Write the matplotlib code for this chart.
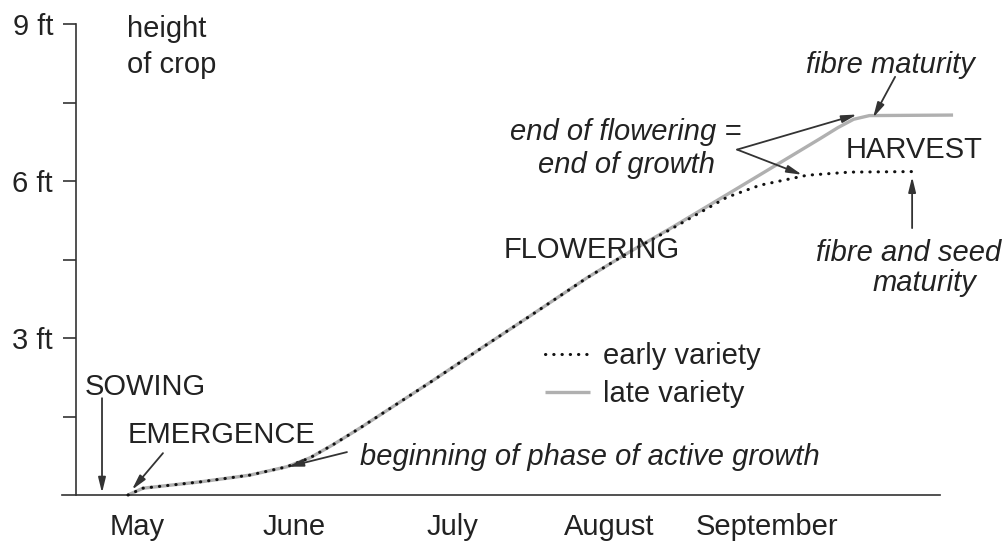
import numpy as np
import matplotlib
matplotlib.use('Agg')
from matplotlib import pyplot as plt

plt.rcParams['font.family'] = ['Liberation Sans', 'DejaVu Sans']

# x in months after start of May (0 = May ... 4 = September), y in feet
months = ['May', 'June', 'July', 'August', 'September']
early_x = [-0.057, 0.038, 0.40, 0.717, 0.952, 1.098, 1.244, 1.416, 1.860, 2.178,
           2.495, 2.857, 3.130, 3.384, 3.746, 3.956, 4.254, 4.527, 4.927]
early_y = [0.0, 0.13, 0.25, 0.38, 0.54, 0.71, 0.96, 1.28, 2.15, 2.79,
           3.42, 4.15, 4.65, 5.07, 5.69, 5.92, 6.11, 6.17, 6.18]
late_x = [-0.057, 0.038, 0.40, 0.717, 0.952, 1.098, 1.244, 1.416, 1.860, 2.178,
          2.495, 2.857, 3.130, 3.384, 3.784, 4.083, 4.337, 4.45, 4.55, 4.65, 5.181]
late_y = [0.0, 0.13, 0.25, 0.38, 0.54, 0.71, 0.96, 1.28, 2.15, 2.79,
          3.42, 4.15, 4.65, 5.09, 5.81, 6.35, 6.81, 7.02, 7.18, 7.25, 7.26]
y_major = [3, 6, 9]
y_labels = ['3 ft', '6 ft', '9 ft']
y_minor = [1.5, 4.5, 7.5]

ink = '#222222'
fs = 21

fig = plt.figure(figsize=(10.07, 5.5), dpi=100)
ax = fig.add_axes([62 / 1007, 55 / 550, 898 / 1007, 471 / 550])
ax.set_xlim(-0.476, 5.225)
ax.set_ylim(0, 9)

# curves
ax.plot(late_x, late_y, color='#b0b0b0', lw=2.4, solid_capstyle='butt',
        clip_on=False, label='late variety', zorder=2)
ax.plot(early_x, early_y, color='#111111', lw=2.2, ls=(0, (0.1, 2.6)),
        dash_capstyle='round', clip_on=False, label='early variety', zorder=3)

# axes
for s in ['top', 'right']:
    ax.spines[s].set_visible(False)
ax.spines['left'].set_position(('data', -0.387))
ax.spines['bottom'].set_bounds(-0.476, 5.098)
for s in ['left', 'bottom']:
    ax.spines[s].set_color('#333333')
    ax.spines[s].set_linewidth(1.2)

ax.set_yticks(y_major)
ax.set_yticklabels(y_labels)
ax.set_yticks(y_minor, minor=True)
ax.tick_params(axis='y', which='both', length=9.5, width=1.2, color='#333333',
               labelsize=fs, labelcolor=ink, pad=7)
ax.set_xticks(range(len(months)))
ax.set_xticklabels(months)
ax.tick_params(axis='x', length=0, labelsize=fs, labelcolor=ink, pad=13)

# legend
ax.legend(handles=ax.lines[::-1], loc='upper left', bbox_to_anchor=(2.59, 2.92),
          bbox_transform=ax.transData, frameon=False, fontsize=fs,
          handlelength=1.55, handletextpad=0.45, labelspacing=0.35,
          borderpad=0, borderaxespad=0, labelcolor=ink)

# labels
ax.text(-0.063, 8.75, 'height', fontsize=fs, color=ink, ha='left', va='baseline')
ax.text(-0.063, 8.06, 'of crop', fontsize=fs, color=ink, ha='left', va='baseline')
ax.text(-0.330, 1.91, 'SOWING', fontsize=fs, color=ink, ha='left', va='baseline')
ax.text(-0.057, 0.99, 'EMERGENCE', fontsize=fs, color=ink, ha='left', va='baseline')
ax.text(1.416, 0.73, 'beginning of phase of active growth', fontsize=fs, color=ink,
        style='italic', ha='left', va='center')
ax.text(2.889, 4.68, 'FLOWERING', fontsize=fs, color=ink, ha='center', va='center')
ax.text(3.105, 6.94, 'end of flowering =', fontsize=fs, color=ink, style='italic',
        ha='center', va='center')
ax.text(3.105, 6.31, 'end of growth', fontsize=fs, color=ink, style='italic',
        ha='center', va='center')
ax.text(4.781, 8.22, 'fibre maturity', fontsize=fs, color=ink, style='italic',
        ha='center', va='center', clip_on=False)
ax.text(4.933, 6.59, 'HARVEST', fontsize=fs, color=ink, ha='center', va='center')
ax.text(4.902, 4.62, 'fibre and seed', fontsize=fs, color=ink, style='italic',
        ha='center', va='center')
ax.text(4.997, 4.05, 'maturity', fontsize=fs, color=ink, style='italic',
        ha='center', va='center')

# arrows
arw = dict(arrowstyle='-|>,head_length=0.9,head_width=0.22', color='#333333',
           lw=1.3, shrinkA=0, shrinkB=0)
arrows = [
    ((-0.222, 1.85), (-0.222, 0.04)),   # sowing
    ((0.165, 0.80), (-0.032, 0.10)),    # emergence
    ((1.333, 0.82), (0.959, 0.54)),     # active growth
    ((3.81, 6.60), (4.571, 7.27)),      # end of flowering, late
    ((3.81, 6.60), (4.222, 6.12)),      # end of flowering, early
    ((4.813, 7.99), (4.673, 7.21)),     # fibre maturity
    ((4.921, 5.10), (4.921, 6.08)),     # fibre and seed maturity
]
for start, end in arrows:
    ax.annotate('', xy=end, xytext=start, arrowprops=arw, annotation_clip=False)

fig.savefig('out.png', dpi=100)
